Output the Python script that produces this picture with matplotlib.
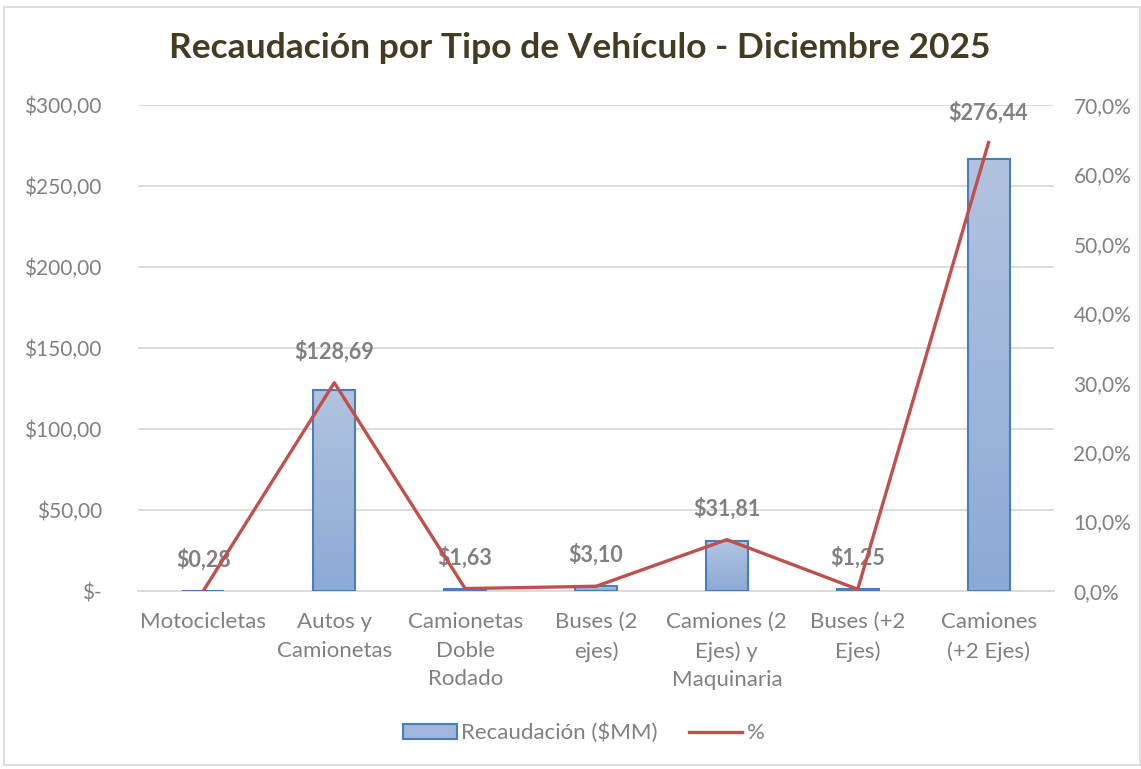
import matplotlib.pyplot as plt
import numpy as np
from matplotlib.patches import Rectangle, Patch
from matplotlib.lines import Line2D
from matplotlib.ticker import FuncFormatter, MultipleLocator
from matplotlib.colors import LinearSegmentedColormap

# datos
categorias = ['Motocicletas', 'Autos y\nCamionetas', 'Camionetas\nDoble\nRodado', 'Buses (2\nejes)',
              'Camiones (2\nEjes) y\nMaquinaria', 'Buses (+2\nEjes)', 'Camiones\n(+2 Ejes)']
recaudacion = [0.27, 123.9, 1.5, 2.9, 30.7, 1.4, 266.9]
etiquetas = ['$0,28', '$128,69', '$1,63', '$3,10', '$31,81', '$1,25', '$276,44']
etiqueta_valor = [0.28, 128.69, 1.63, 3.10, 31.81, 1.25, 276.44]
porcentaje = [0.05, 30.0, 0.35, 0.68, 7.4, 0.25, 64.6]

gris = '#808080'
fuente = 'Lato'

fig = plt.figure(figsize=(11.41, 7.69), dpi=100)
ax = fig.add_axes([138/1141, 1-591/769, (1054-138)/1141, (591-105)/769])
ax2 = ax.twinx()

x = np.arange(len(categorias))
bars = ax.bar(x, recaudacion, width=0.32, color='none', edgecolor='#4a7ebb', linewidth=1.5, zorder=3)

# degradado en las barras
grad = np.linspace(0, 1, 100).reshape(-1, 1)
cmap = LinearSegmentedColormap.from_list('g', ['#8caad6', '#b1c3df'])
for b in bars:
    im = ax.imshow(grad, cmap=cmap, aspect='auto', origin='lower',
                   extent=[b.get_x(), b.get_x() + b.get_width(), 0, b.get_height()], zorder=2)
    im.set_clip_path(b)

for xi, v, t in zip(x, etiqueta_valor, etiquetas):
    ax.annotate(t, (xi, v), xytext=(0, 31), textcoords='offset pixels', ha='center', va='center',
                fontsize=15.5, fontweight='bold', color=gris, family=fuente, zorder=5)

ax.set_xlim(-0.5, len(categorias) - 0.5)
ax.set_ylim(0, 300)
ax.yaxis.set_major_locator(MultipleLocator(50))
ax.yaxis.set_major_formatter(FuncFormatter(lambda v, p: '$-' if v == 0 else '$' + f'{v:.2f}'.replace('.', ',')))
ax.grid(axis='y', color='#d9d9d9', linewidth=1.3, zorder=0)
ax.set_axisbelow(True)
ax.set_xticks(x)
ax.set_xticklabels(categorias, linespacing=1.55)

ax2.plot(x, porcentaje, color='#c0504d', linewidth=2.4, zorder=4)
ax2.set_ylim(0, 70)
ax2.yaxis.set_major_locator(MultipleLocator(10))
ax2.yaxis.set_major_formatter(FuncFormatter(lambda v, p: f'{v:.1f}'.replace('.', ',') + '%'))

for a in (ax, ax2):
    for s in a.spines.values():
        s.set_visible(False)
    a.tick_params(length=0, labelsize=15, labelcolor=gris)
    for lb in a.get_xticklabels() + a.get_yticklabels():
        lb.set_family(fuente)
ax.tick_params(axis='x', labelsize=16, pad=15)
ax.spines['bottom'].set_visible(True)
ax.spines['bottom'].set_color('#d9d9d9')
ax.spines['bottom'].set_linewidth(1.3)
ax.tick_params(axis='y', pad=26)
ax2.tick_params(axis='y', pad=14)

fig.text(580/1141, 1-48/769, 'Recaudación por Tipo de Vehículo - Diciembre 2025', ha='center', va='center',
         fontsize=25.5, fontweight='bold', color='#433c22', family=fuente)

handles = [Patch(facecolor='#a0b6dc', edgecolor='#4a7ebb', linewidth=1.5),
           Line2D([0], [0], color='#c0504d', linewidth=2.4)]
leg = fig.legend(handles, ['Recaudación ($MM)', '%'], loc='center', bbox_to_anchor=(584/1141, 1-733/769),
                 ncol=2, frameon=False, prop={'family': fuente, 'size': 16}, labelcolor=gris,
                 handlelength=2.4, handletextpad=0.2, columnspacing=1.4)

fig.patches.append(Rectangle((4/1141, 4/769), 1 - 5/1141, 1 - 11/769, transform=fig.transFigure,
                             fill=False, edgecolor='#d9d9d9', linewidth=1.2))

fig.savefig('out.png', dpi=100)
plt.close()
